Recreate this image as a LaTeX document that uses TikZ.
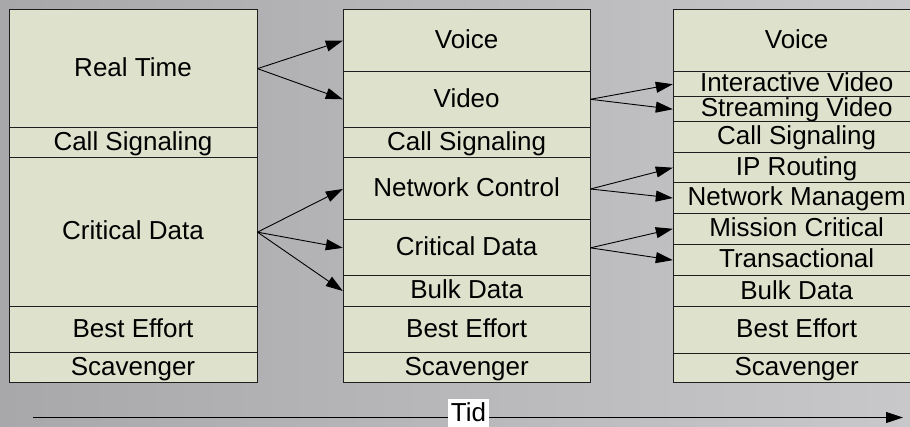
\documentclass[tikz,border=0pt]{standalone}
\usepackage{fontspec}
\setmainfont{Liberation Sans}
\usetikzlibrary{arrows.meta}
\definecolor{boxfill}{RGB}{222,226,205}
\definecolor{bgdark}{RGB}{168,168,171}
\definecolor{bglight}{RGB}{200,200,202}
\definecolor{edge}{RGB}{30,30,30}
\tikzset{
  row/.style={draw=edge, line width=1pt, fill=boxfill, rectangle, inner sep=0pt,
    text height=18.6pt, text depth=3pt, font=\fontsize{26}{26}\selectfont},
  c1/.style={row, minimum width=248pt},
  c2/.style={row, minimum width=246.7pt},
  c3/.style={row, minimum width=246.7pt},
  conn/.style={draw=black, line width=0.9pt, -{Triangle[length=17pt,width=11pt]}},
  tidlabel/.style={fill=white, inner xsep=3.3pt, inner ysep=3.4pt, text height=18.6pt,
    text depth=8pt, font=\fontsize{26}{26}\selectfont, anchor=base}
}
\begin{document}
\begin{tikzpicture}[x=1pt,y=-1pt]
\path[use as bounding box] (0,0) rectangle (910,427);
\clip (0,0) rectangle (910,427);
\shade[left color=bgdark, right color=bglight] (0,0) rectangle (910,427);
% column 1
\node[c1, minimum height=117.3pt] (rt1) at (133,68.65) {Real Time};
\node[c1, minimum height=30.7pt] (cs1) at (133,142.65) {Call Signaling};
\node[c1, minimum height=148.3pt] (cd1) at (133,232.15) {Critical Data};
\node[c1, minimum height=46.4pt] (be1) at (133,329.5) {Best Effort};
\node[c1, minimum height=30pt] (sc1) at (133,367.7) {Scavenger};
% column 2
\node[c2, minimum height=61.3pt] (vo2) at (466.65,40.65) {Voice};
\node[c2, minimum height=56pt] (vi2) at (466.65,99.3) {Video};
\node[c2, minimum height=30.7pt] (cs2) at (466.65,142.65) {Call Signaling};
\node[c2, minimum height=62pt] (nc2) at (466.65,189) {Network Control};
\node[c2, minimum height=55.7pt] (cd2) at (466.65,247.85) {Critical Data};
\node[c2, minimum height=30.6pt] (bd2) at (466.65,291) {Bulk Data};
\node[c2, minimum height=46.4pt] (be2) at (466.65,329.5) {Best Effort};
\node[c2, minimum height=30pt] (sc2) at (466.65,367.7) {Scavenger};
% column 3
\node[c3, minimum height=61.7pt] (vo3) at (796.65,40.85) {Voice};
\node[c3, minimum height=25pt] (iv3) at (796.65,84.2) {Interactive Video};
\node[c3, minimum height=25pt] (sv3) at (796.65,109.2) {Streaming Video};
\node[c3, minimum height=31pt] (cs3) at (796.65,137.2) {Call Signaling};
\node[c3, minimum height=30pt] (ip3) at (796.65,167.7) {IP Routing};
\node[c3, minimum height=30.6pt] (nm3) at (796.65,198) {Network Managem};
\node[c3, minimum height=31pt] (mc3) at (796.65,228.8) {Mission Critical};
\node[c3, minimum height=31.7pt] (tr3) at (796.65,260.15) {Transactional};
\node[c3, minimum height=30.7pt] (bd3) at (796.65,291.35) {Bulk Data};
\node[c3, minimum height=46.6pt] (be3) at (796.65,330) {Best Effort};
\node[c3, minimum height=29.4pt] (sc3) at (796.65,368) {Scavenger};
% connectors
\draw[conn] (rt1.east) -- (vo2.west);
\draw[conn] (rt1.east) -- (vi2.west);
\draw[conn] (cd1.east) -- (nc2.west);
\draw[conn] (cd1.east) -- (cd2.west);
\draw[conn] (cd1.east) -- (bd2.west);
\draw[conn] (vi2.east) -- (iv3.west);
\draw[conn] (vi2.east) -- (sv3.west);
\draw[conn] (nc2.east) -- (ip3.west);
\draw[conn] (nc2.east) -- (nm3.west);
\draw[conn] (cd2.east) -- (mc3.west);
\draw[conn] (cd2.east) -- (tr3.west);
% time axis
\coordinate (ts) at (33,417.5);
\coordinate (te) at (903,417.5);
\draw[conn] (ts) -- (te);
\node[tidlabel] (tid) at (468.5,421) {Tid};
\end{tikzpicture}
\end{document}
